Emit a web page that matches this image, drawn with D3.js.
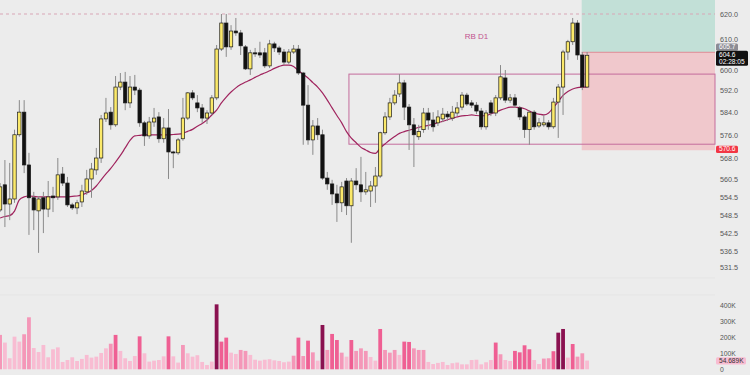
<!DOCTYPE html>
<html>
<head>
<meta charset="utf-8">
<script src="https://cdn.jsdelivr.net/npm/d3@7/dist/d3.min.js"></script>
<style>
  body { margin: 0; background: #ececec; font-family: "Liberation Sans", "Noto Sans", sans-serif; }
  svg { display: block; }
</style>
</head>
<body>
<script>
// ---- data (daily candles, oldest first) ----
var opens = [550.2,558.7,552.2,553.9,576.0,584.0,565.5,554.3,549.9,554.3,
  550.5,554.9,554.6,562.4,559.3,551.9,550.9,552.9,556.3,560.7,
  563.8,567.9,581.6,584.0,579.5,593.0,594.8,587.3,593.0,591.9,
  580.2,575.6,580.5,582.3,574.6,578.4,570.0,569.7,574.6,581.9,
  590.9,587.3,585.5,581.9,583.7,589.1,606.9,616.6,607.7,613.6,
  612.9,607.7,599.6,605.5,605.5,605.5,600.7,608.8,607.3,605.8,
  602.1,605.8,606.9,598.1,586.5,574.2,579.1,576.0,561.0,559.0,
  555.6,552.6,560.0,551.6,560.0,558.7,556.3,556.6,558.3,561.7,
  576.7,582.3,587.3,590.5,594.5,585.8,579.5,575.3,577.8,583.7,
  581.2,580.2,581.6,583.3,581.9,583.7,585.8,590.1,587.3,586.5,
  584.4,578.8,587.3,583.7,589.1,596.3,588.3,589.1,585.5,582.3,
  577.8,584.0,579.1,579.5,580.2,578.8,587.6,593.0,605.8,609.6,
  616.6,604.7,593.0];
var highs = [559.3,567.2,566.2,577.8,588.3,588.3,569.7,556.3,554.9,556.3,
  560.0,558.0,567.9,564.8,561.4,552.6,553.6,558.7,563.8,566.2,
  571.4,583.0,589.1,585.8,597.0,598.1,598.5,597.0,597.4,592.7,
  580.9,582.3,585.5,584.0,581.9,585.1,570.4,574.9,589.1,591.2,
  591.9,590.1,586.9,584.7,590.1,608.4,620.0,620.0,615.8,618.5,
  614.0,608.4,606.6,607.3,609.6,607.3,610.3,609.6,608.1,606.9,
  606.9,608.4,608.4,598.5,593.7,581.2,581.9,577.8,563.1,560.4,
  558.7,559.7,561.0,561.0,564.4,568.3,563.1,560.0,564.8,577.1,
  584.0,589.1,591.9,597.7,595.6,586.9,581.9,579.5,585.5,585.5,
  584.0,584.7,585.5,584.4,586.2,587.6,591.2,590.9,588.3,587.6,
  585.5,584.7,588.3,590.1,601.0,599.2,590.5,590.5,586.2,583.0,
  584.7,584.7,581.9,583.0,581.2,589.1,594.1,606.6,610.3,618.5,
  617.7,605.8,605.8];
var lows = [549.5,544.5,546.8,552.6,575.3,562.7,541.9,543.5,536.0,542.5,
  547.8,549.5,553.6,558.3,551.2,550.2,548.8,551.2,555.3,554.3,
  562.1,566.2,580.5,577.8,578.8,591.9,584.7,585.5,590.1,578.8,
  572.1,574.6,578.8,573.2,573.2,560.7,564.4,569.0,573.9,581.2,
  588.3,584.0,580.2,579.8,583.0,588.3,606.2,604.0,606.6,611.8,
  604.7,599.2,597.4,604.0,603.6,599.9,599.9,605.8,604.7,601.0,
  601.4,605.1,597.4,572.5,572.5,569.0,574.2,560.4,557.0,551.9,
  546.2,549.5,548.5,539.3,557.0,552.9,555.3,551.2,552.6,561.0,
  576.0,581.2,586.5,589.4,581.2,570.7,564.8,574.2,576.7,577.8,
  577.1,579.1,580.5,580.9,580.9,582.6,584.7,586.2,585.5,583.3,
  577.8,577.8,582.6,582.6,588.3,587.3,587.3,585.5,581.2,574.9,
  572.5,577.8,578.4,578.8,577.8,578.1,574.9,583.0,602.9,608.4,
  602.9,591.9,592.7];
var closes = [558.0,552.2,553.9,576.0,584.0,565.5,554.3,550.2,553.9,550.5,
  554.6,554.3,562.1,559.3,551.9,550.9,552.6,556.6,560.7,564.1,
  567.9,581.6,583.7,579.5,593.0,594.8,587.3,593.0,591.9,580.2,
  575.6,580.5,581.9,574.6,578.4,570.0,569.7,574.2,581.9,590.9,
  589.1,585.5,581.9,583.7,589.1,606.9,616.6,607.7,613.6,612.9,
  608.1,599.6,605.5,605.1,604.7,600.7,608.8,607.3,605.8,602.1,
  605.8,606.9,598.1,586.5,574.2,579.1,576.0,561.0,559.0,555.6,
  552.6,558.0,551.6,560.0,558.7,556.3,557.0,558.3,561.7,576.7,
  582.3,587.3,590.1,594.5,585.8,579.5,576.0,577.1,583.7,581.2,
  578.8,582.3,583.3,582.3,584.0,585.5,590.1,586.9,586.5,584.4,
  578.8,583.7,583.7,589.1,596.7,588.3,589.1,586.5,582.3,577.8,
  584.0,578.8,580.2,580.2,578.8,587.6,593.0,605.8,609.6,616.6,
  604.7,593.0,604.6];
// moving average as plotted
var maVals = [547.5,548.0,548.3,549.8,553.6,554.6,554.9,554.8,554.6,554.6,
  554.6,554.6,554.6,554.6,554.6,554.8,554.9,555.3,555.9,556.8,
  558.3,560.4,562.4,564.3,566.5,568.8,571.4,574.0,575.6,575.8,
  576.0,576.0,576.0,576.0,576.0,576.0,576.1,576.2,576.5,577.2,
  577.9,579.0,580.0,581.2,583.0,584.7,587.3,589.4,591.2,592.7,
  593.9,594.8,595.6,596.5,597.4,598.1,598.9,599.8,600.5,601.0,
  601.0,600.5,599.0,597.6,596.3,594.6,593.0,590.9,588.3,585.5,
  582.8,580.2,577.1,574.8,573.2,571.6,570.7,569.8,569.5,571.4,
  572.8,574.2,575.4,576.5,577.1,577.6,578.1,578.6,579.0,579.3,
  579.7,580.3,580.7,581.3,581.8,582.3,582.7,582.8,583.0,582.8,
  582.7,582.8,583.4,584.0,584.7,585.3,585.8,585.8,585.6,585.2,
  584.4,583.6,583.3,583.0,583.7,585.7,587.8,590.0,591.4,592.3,
  592.8,593.0,593.1];
// volume in thousands
var volumes = [215,167,69,204,173,219,325,133,108,152,
  75,125,137,46,58,75,52,65,90,73,
  79,102,131,160,215,115,69,52,83,206,
  100,48,54,58,81,206,81,42,152,100,
  79,88,46,27,48,406,173,198,104,96,
  121,115,90,60,54,60,63,56,52,44,
  48,85,198,83,179,106,54,277,121,221,
  183,104,79,183,115,131,115,77,54,252,
  121,104,121,90,173,171,131,121,121,46,
  33,40,46,27,38,42,31,31,58,60,
  31,44,58,167,94,58,52,115,106,150,
  125,58,33,67,69,113,229,252,73,158,
  79,100,54.689];
// volume intensity class (0 low .. 3 extreme)
var volLevel = [1,0,0,0,0,1,1,0,0,0, 0,0,0,0,0,0,0,0,0,0,
  0,0,0,1,2,0,0,0,0,2, 0,0,0,0,0,2,0,0,1,0,
  0,0,0,0,0,3,2,2,0,0, 1,1,0,0,0,0,0,0,0,0,
  0,1,2,1,2,1,0,3,1,2, 2,1,0,2,1,1,1,0,0,2,
  1,1,1,0,2,2,1,1,1,0, 0,0,0,0,0,0,0,0,0,0,
  0,0,0,2,1,0,0,2,2,2, 2,0,0,1,1,2,3,3,0,2,
  1,1,0];

var priceTicks = [620.0, 610.0, 600.0, 592.0, 584.0, 576.0, 568.0, 560.5, 554.5, 548.5, 542.5, 536.5, 531.5];
var volTicks = [0, 100, 200, 300, 400];

var topLine = 620.0;                       // dashed level
var rbBox = { from: 73, top: 597.7, bottom: 572.7, label: "RB D1", labelAt: 99, labelPrice: 611.5 };
var trade = { from: 121, entry: 605.7, stop: 570.6 };
var lastPrice = 604.6, countdown = "02:28:05";

// ---- layout ----
var W = 750, H = 375, plotRight = 715;
var N = opens.length;
var font = "Liberation Sans, Arial, sans-serif";

var svg = d3.select("body").append("svg")
    .attr("width", W).attr("height", H);

svg.append("rect").attr("width", W).attr("height", H).attr("fill", "#ececec");

var x = d3.scaleBand()
    .domain(d3.range(N))
    .range([-1.6, -1.6 + N * 4.8])
    .paddingInner(0.3);

var y = d3.scaleLog()
    .domain([531.5, 620])
    .range([266.7, 14]);

var yVol = d3.scaleLinear()
    .domain([0, 400])
    .range([369.3, 305.3]);

var cx = function (i) { return x(i) + x.bandwidth() / 2; };

// faint pane grid lines
svg.append("g").selectAll("line")
    .data([278, 295])
    .enter().append("line")
    .attr("x1", 0).attr("x2", plotRight)
    .attr("y1", function (d) { return d; }).attr("y2", function (d) { return d; })
    .attr("stroke", "#e5e5e5").attr("stroke-width", 1);

// trade zones
var zx0 = cx(trade.from) - 0.6;
svg.append("rect")
    .attr("x", zx0).attr("y", 0)
    .attr("width", plotRight - zx0).attr("height", y(trade.entry))
    .attr("fill", "#c2e0d7");
svg.append("rect")
    .attr("x", zx0).attr("y", y(trade.entry))
    .attr("width", plotRight - zx0).attr("height", y(trade.stop) - y(trade.entry))
    .attr("fill", "#f0c8cc");

// dashed level
svg.append("line")
    .attr("x1", 0).attr("x2", plotRight)
    .attr("y1", y(topLine)).attr("y2", y(topLine))
    .attr("stroke", "#d9a6b6").attr("stroke-width", 1)
    .attr("stroke-dasharray", "3,3");

// range box
var bx = x(rbBox.from) - (x.step() - x.bandwidth()) / 2;
svg.append("rect")
    .attr("x", bx).attr("y", y(rbBox.top))
    .attr("width", plotRight - bx).attr("height", y(rbBox.bottom) - y(rbBox.top))
    .attr("fill", "none").attr("stroke", "#c46c9c").attr("stroke-width", 1);
svg.append("text")
    .attr("x", cx(rbBox.labelAt)).attr("y", y(rbBox.labelPrice))
    .attr("text-anchor", "middle").attr("dy", "0.35em")
    .attr("font-size", 8).attr("fill", "#c2528f").attr("font-family", font)
    .text(rbBox.label);

// entry line
svg.append("line")
    .attr("x1", zx0).attr("x2", plotRight)
    .attr("y1", y(trade.entry)).attr("y2", y(trade.entry))
    .attr("stroke", "#e08a94").attr("stroke-width", 1);

// volume bars
svg.append("g").selectAll("rect")
    .data(volumes)
    .enter().append("rect")
    .attr("x", function (d, i) { return cx(i) - 1.9; })
    .attr("width", 3.8)
    .attr("y", function (d) { return yVol(d); })
    .attr("height", function (d) { return yVol(0) - yVol(d); })
    .attr("fill", function (d, i) { return ["#f8bcd2", "#f497b8", "#ef5f93", "#8a1150"][volLevel[i]]; });

// moving average
var maLine = d3.line()
    .x(function (d, i) { return cx(i); })
    .y(function (d) { return y(d); })
    .curve(d3.curveMonotoneX);
svg.append("path")
    .datum(maVals)
    .attr("d", maLine)
    .attr("fill", "none").attr("stroke", "#a0245e").attr("stroke-width", 1.2);

// candles
var candles = svg.append("g").selectAll("g")
    .data(d3.range(N))
    .enter().append("g");

candles.append("line")
    .attr("x1", cx).attr("x2", cx)
    .attr("y1", function (i) { return y(highs[i]); })
    .attr("y2", function (i) { return y(lows[i]); })
    .attr("stroke", "#8a8a8a").attr("stroke-width", 1);

candles.append("rect")
    .attr("x", function (i) { return x(i); })
    .attr("width", x.bandwidth())
    .attr("y", function (i) { return y(Math.max(opens[i], closes[i])); })
    .attr("height", function (i) { return Math.max(1, Math.abs(y(opens[i]) - y(closes[i]))); })
    .attr("fill", function (i) { return closes[i] >= opens[i] ? "#fbe96a" : "#111111"; })
    .attr("stroke", "#1a1a1a").attr("stroke-width", 0.7);

// price axis
var axisG = svg.append("g")
    .attr("transform", "translate(" + plotRight + ",0)")
    .call(d3.axisRight(y).tickValues(priceTicks).tickFormat(d3.format(".1f")).tickSize(0).tickPadding(5));
axisG.select(".domain").remove();
axisG.selectAll("text").attr("font-size", 7.2).attr("fill", "#555555").attr("font-family", font);
// labels next to the price tags are nudged clear of them
axisG.selectAll(".tick").filter(function (d) { return d === 600; })
    .select("text").attr("dy", "0.62em");
axisG.selectAll(".tick").filter(function (d) { return d === 610; })
    .select("text").attr("dy", "0.16em");

var volAxis = svg.append("g")
    .attr("transform", "translate(" + plotRight + ",0)")
    .call(d3.axisRight(yVol).tickValues(volTicks)
        .tickFormat(function (d) { return d === 0 ? "0" : d + "K"; })
        .tickSize(0).tickPadding(5));
volAxis.select(".domain").remove();
volAxis.selectAll("text").attr("font-size", 6.8).attr("fill", "#555555").attr("font-family", font);

// price tags
function tag(yTop, h, w, fill, lines, color, step) {
    var g = svg.append("g");
    g.append("rect").attr("x", plotRight + 1).attr("y", yTop)
        .attr("width", w).attr("height", h).attr("rx", 1.5).attr("fill", fill);
    lines.forEach(function (t, k) {
        g.append("text").attr("x", plotRight + 4)
            .attr("y", yTop + 5.8 + k * (step || 0))
            .attr("font-size", 6.6).attr("fill", color)
            .attr("font-family", font).text(t);
    });
}
tag(y(trade.entry) - 8.8, 7.2, 22, "#8c8c94", [d3.format(".1f")(trade.entry)], "#ffffff");
tag(y(lastPrice) - 4.4, 15, 32, "#111111", [d3.format(".1f")(lastPrice), countdown], "#ffffff", 7);
tag(y(trade.stop) - 4.6, 7.4, 22, "#f23645", [d3.format(".1f")(trade.stop)], "#ffffff");
tag(yVol(volumes[N - 1]) - 3.3, 7.2, 30, "#f8bcd2", [d3.format(".3f")(volumes[N - 1]) + "K"], "#333333");
</script>
</body>
</html>
